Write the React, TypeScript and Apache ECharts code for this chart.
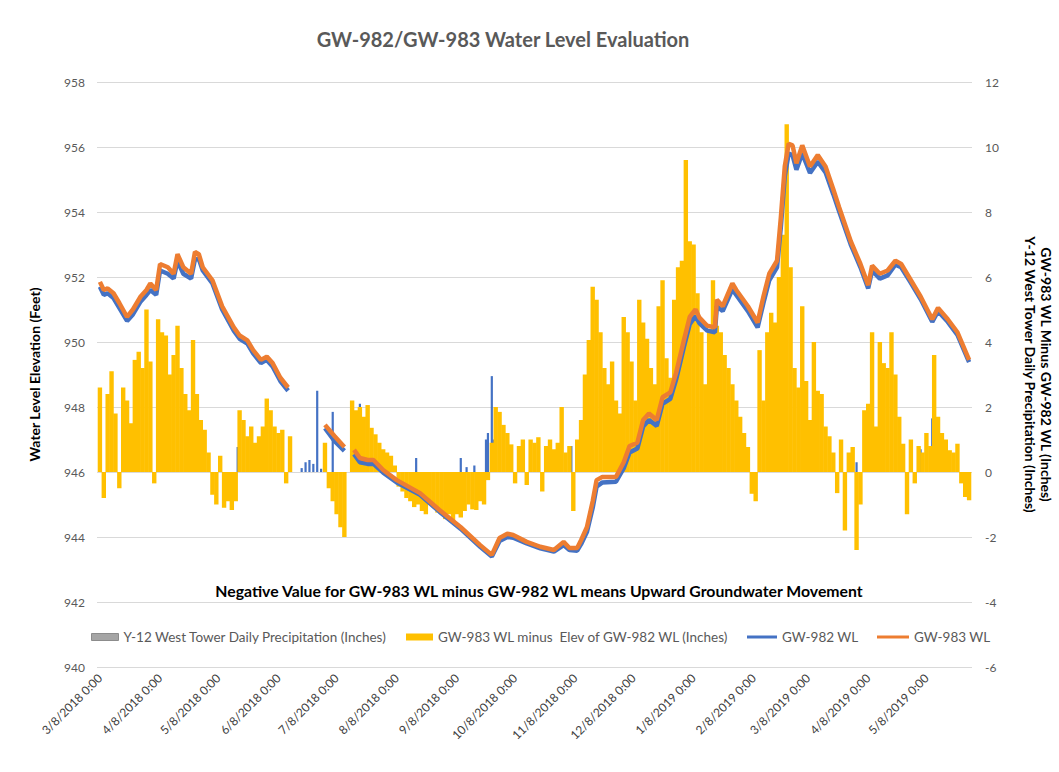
import React, { useEffect, useRef } from "react";
import * as echarts from "echarts";

const DAY_MS = 86400000;
const START = Date.UTC(2018, 2, 8); // day 0 = 3/8/2018

const tickLabels = [
  "3/8/2018 0:00", "4/8/2018 0:00", "5/8/2018 0:00", "6/8/2018 0:00", "7/8/2018 0:00",
  "8/8/2018 0:00", "9/8/2018 0:00", "10/8/2018 0:00", "11/8/2018 0:00", "12/8/2018 0:00",
  "1/8/2019 0:00", "2/8/2019 0:00", "3/8/2019 0:00", "4/8/2019 0:00", "5/8/2019 0:00",
];

// water level readings: days since 3/8/2018
const levelDays = [
  0, 2, 4, 7, 10, 14, 17, 21, 24, 26,
  29, 31, 35, 38, 40, 43, 47, 49, 51, 53,
  58, 63, 69, 72, 76, 79, 83, 86, 89, 93,
  97, 98, 116, 121, 126, 127, 131, 134, 138, 141,
  146, 153, 165, 175, 186, 196, 202, 206, 210, 213,
  220, 227, 234, 239, 242, 246, 248, 251, 254, 256,
  259, 266, 270, 273, 277, 280, 283, 287, 290, 294,
  297, 301, 304, 307, 309, 313, 317, 318, 321, 326,
  328, 334, 339, 342, 345, 349, 351, 353, 355, 357,
  359, 362, 366, 370, 374, 378, 381, 387, 392, 396,
  398, 402, 406, 410, 413, 418, 423, 429, 432, 437,
  442, 448,
];

const gw983 = [
  951.85, 951.6, 951.65, 951.5, 951.2, 950.77, 951.0, 951.4, 951.6, 951.8,
  951.6, 952.4, 952.3, 952.1, 952.7, 952.3, 952.1, 952.77, 952.7, 952.3,
  951.9, 951.1, 950.45, 950.2, 950.05, 949.75, 949.45, 949.55, 949.35, 948.9,
  948.6, null, 947.45, 947.1, 946.77, null, 946.68, 946.43, 946.37, 946.37,
  946.06, 945.75, 945.35, 944.83, 944.3, 943.75, 943.45, 943.97, 944.1, 944.06,
  943.85, 943.7, 943.6, 943.85, 943.66, 943.66, 943.9, 944.3, 945.1, 945.75,
  945.85, 945.85, 946.3, 946.8, 946.9, 947.6, 947.8, 947.6, 948.3, 948.45,
  949.05, 950.05, 950.77, 951.0, 950.75, 950.5, 950.45, 951.3, 951.1, 951.8,
  951.6, 951.1, 950.6, 951.4, 952.1, 952.5, 953.85, 955.4, 956.1, 956.05,
  955.5, 956.05, 955.4, 955.75, 955.4, 954.7, 954.15, 953.1, 952.4, 951.75,
  952.35, 952.1, 952.2, 952.5, 952.4, 951.9, 951.4, 950.7, 951.05, 950.7,
  950.3, 949.45,
];

const gw982 = [
  951.7, 951.45, 951.5, 951.35, 951.05, 950.65, 950.85, 951.25, 951.45, 951.6,
  951.45, 952.2, 952.1, 951.95, 952.5, 952.1, 951.95, 952.55, 952.55, 952.2,
  951.8, 951.0, 950.35, 950.1, 949.95, 949.65, 949.35, 949.45, 949.25, 948.8,
  948.5, null, 947.35, 946.95, 946.65, null, 946.55, 946.3, 946.25, 946.25,
  945.98, 945.68, 945.3, 944.78, 944.25, 943.7, 943.4, 943.88, 944.0, 943.98,
  943.8, 943.65, 943.55, 943.75, 943.6, 943.58, 943.78, 944.15, 944.9, 945.55,
  945.68, 945.7, 946.12, 946.6, 946.72, 947.4, 947.6, 947.42, 948.1, 948.25,
  948.85, 949.85, 950.55, 950.8, 950.58, 950.35, 950.3, 951.1, 950.95, 951.62,
  951.45, 950.95, 950.45, 951.2, 951.9, 952.3, 953.55, 955.1, 955.8, 955.75,
  955.3, 955.8, 955.2, 955.55, 955.22, 954.55, 954.02, 953.0, 952.3, 951.65,
  952.2, 951.95, 952.05, 952.38, 952.3, 951.82, 951.32, 950.62, 950.95, 950.62,
  950.22, 949.38,
];

// GW-983 WL minus GW-982 WL (inches), one value every 2 days from day 0
const diffStepDays = 2;
const diffValues = [
  2.6, -0.8, 2.4, 3.1, 1.8, -0.5, 2.6, 2.2, 1.5, 3.45,
  3.7, 3.2, 5.0, 3.4, -0.35, 4.7, 4.3, 4.2, 3.0, 3.6,
  4.5, 3.2, 2.4, 1.9, 4.06, 2.4, 1.6, 1.3, 0.6, -0.7,
  -1.0, 0.5, -1.1, -0.9, -1.17, -0.9, 1.9, 1.6, 1.1, 1.4,
  0.9, 1.1, 1.4, 2.26, 1.9, 1.4, 1.2, 1.3, -0.35, 1.1,
  null, null, null, null, null, null, null, null, 0.9, -0.5,
  -0.9, -1.3, -1.7, -2.0, null, 2.2, 1.9, 2.0, 1.7, 2.06,
  1.36, 1.16, 0.9, 0.7, 0.6, 0.5, 0.2, -0.45, -0.6, -0.8,
  -0.9, -1.08, -1.0, -1.2, -1.3, -1.0, -1.08, -1.25, -1.2, -1.45,
  -1.3, -1.5, -1.3, -1.4, -1.2, -1.0, -1.15, -1.17, -0.9, -1.0,
  -0.25, 0.9, 2.0, 1.85, 1.45, 1.2, 0.85, -0.35, 0.8, 1.0,
  -0.4, 1.0, 0.9, 1.07, -0.6, 0.8, 1.0, 0.7, 0.9, 2.0,
  0.6, 0.8, -1.2, 1.0, 1.6, 3.0, 4.06, 5.7, 5.3, 4.3,
  3.2, 2.7, 3.4, 2.2, 1.8, 4.77, 4.3, 3.4, 2.2, 5.3,
  4.6, 4.1, 3.2, 2.7, 5.1, 5.9, 3.5, 2.9, 5.3, 6.3,
  6.5, 9.6, 7.1, 7.0, 5.5, 4.3, 2.7, 4.3, 5.9, 4.5,
  4.3, 3.6, 3.2, 2.7, 2.2, 1.7, 1.2, 0.77, -0.67, -0.9,
  3.75, 2.2, 4.3, 4.9, 4.6, 6.0, 7.3, 10.7, 6.3, 3.2,
  2.6, 5.1, 2.8, 1.6, 4.0, 2.5, 2.4, 1.4, 1.1, 0.6,
  -0.65, 1.0, -1.8, 0.6, 0.77, -2.4, -1.0, 1.9, 2.1, 4.3,
  1.4, 4.0, 3.35, 3.2, 4.3, 3.0, 1.7, 0.87, -1.3, 1.0,
  -0.35, 0.8, 0.6, 1.2, 0.8, 3.6, 1.7, 1.2, 1.0, 0.67,
  0.6, 0.87, -0.35, -0.77, -0.87,
];

// Y-12 West Tower daily precipitation (inches)
const precipDays = [71, 104, 106, 108, 110, 112, 114, 120, 134, 163, 186, 189, 193, 199, 200, 202, 203, 243, 390, 423, 429];
const precipValues = [0.77, 0.12, 0.3, 0.37, 0.25, 2.5, 0.1, 1.85, 2.1, 0.43, 0.43, 0.15, 0.2, 1.0, 1.2, 2.95, 1.0, 0.8, 0.3, 0.7, 1.65];

const SERIES_PRECIP = "Y-12 West Tower Daily Precipitation (Inches)";
const SERIES_DIFF = "GW-983 WL minus  Elev of GW-982 WL (Inches)";
const SERIES_982 = "GW-982 WL";
const SERIES_983 = "GW-983 WL";

const FONT = "Lato, 'Open Sans', sans-serif";

const X_MIN = -1.5;
const X_MAX = 449.5;

const labelToDay = (s: string) => {
  const [m, d, rest] = s.split("/");
  const t = Date.UTC(parseInt(rest, 10), parseInt(m, 10) - 1, parseInt(d, 10));
  return Math.round((t - START) / DAY_MS);
};

export default function App() {
  const ref = useRef<HTMLDivElement>(null);

  useEffect(() => {
    document.body.style.margin = "0";
    if (!ref.current) return;
    const chart = echarts.init(ref.current, null, { renderer: "svg" });

    const tickDays = tickLabels.map(labelToDay);
    const labelMap = new Map<number, string>();
    tickLabels.forEach((l, i) => labelMap.set(tickDays[i], l));

    const lineData = (vals: (number | null)[]) =>
      levelDays.map((d, i) => [d, vals[i] === null ? "-" : vals[i]]);

    const diffData: any[] = [];
    diffValues.forEach((v, i) => {
      if (v !== null) diffData.push([i * diffStepDays, v]);
    });
    const precipData = precipDays.map((d, i) => [d, precipValues[i]]);

    const legendBase = {
      top: 630,
      padding: 0,
      selectedMode: false,
      textStyle: { color: "#595959", fontSize: 13.5, fontFamily: FONT },
    };

    chart.setOption({
      animation: false,
      backgroundColor: "#ffffff",
      textStyle: { fontFamily: FONT },
      title: [
        {
          text: "GW-982/GW-983 Water Level Evaluation",
          left: 503,
          textAlign: "center",
          top: 29,
          padding: 0,
          textStyle: { color: "#595959", fontSize: 20, fontWeight: "bold", fontFamily: FONT },
        },
        {
          text: "Negative Value for GW-983 WL minus GW-982 WL means Upward Groundwater Movement",
          left: 539,
          textAlign: "center",
          top: 582,
          padding: 0,
          textStyle: { color: "#000000", fontSize: 15.8, fontWeight: "bold", fontFamily: FONT },
        },
      ],
      legend: [
        {
          ...legendBase,
          left: 91,
          itemWidth: 27,
          itemHeight: 7,
          data: [{ name: SERIES_PRECIP, icon: "rect", itemStyle: { color: "#A5A5A5", borderColor: "#8C8C8C", borderWidth: 1 } }],
        },
        {
          ...legendBase,
          left: 406,
          itemWidth: 27,
          itemHeight: 7,
          data: [{ name: SERIES_DIFF, icon: "rect" }],
        },
        {
          ...legendBase,
          left: 747,
          itemWidth: 30,
          itemHeight: 3,
          data: [{ name: SERIES_982, icon: "rect" }],
        },
        {
          ...legendBase,
          left: 877,
          itemWidth: 32,
          itemHeight: 3,
          data: [{ name: SERIES_983, icon: "rect" }],
        },
      ],
      grid: { left: 97, right: 87, top: 82, bottom: 105, outerBoundsMode: "none" },
      xAxis: [
        {
          type: "value",
          min: X_MIN,
          max: X_MAX,
          axisLine: { show: false },
          axisTick: { show: false },
          splitLine: { show: false },
          axisLabel: {
            customValues: tickDays,
            formatter: (v: number) => labelMap.get(Math.round(v)) ?? "",
            rotate: 45,
            margin: 9,
            color: "#404040",
            fontSize: 12,
            fontFamily: FONT,
            hideOverlap: false,
          },
        },
        {
          type: "value",
          min: X_MIN,
          max: X_MAX,
          show: false,
        },
      ],
      yAxis: [
        {
          type: "value",
          position: "left",
          min: 940,
          max: 958,
          interval: 2,
          axisLine: { show: false },
          axisTick: { show: false },
          splitLine: { lineStyle: { color: "#D9D9D9", width: 1 } },
          axisLabel: { color: "#595959", fontSize: 12, margin: 12, fontFamily: FONT },
          name: "Water Level Elevation (Feet)",
          nameLocation: "middle",
          nameGap: 56,
          nameTextStyle: { color: "#000000", fontWeight: "bold", fontSize: 14, fontFamily: FONT },
        },
        {
          type: "value",
          position: "right",
          min: -6,
          max: 12,
          interval: 2,
          axisLine: { show: false },
          axisTick: { show: false },
          splitLine: { show: false },
          axisLabel: { color: "#595959", fontSize: 12, margin: 13, fontFamily: FONT },
          name: "GW-983 WL Minus GW-982 WL (Inches)\nY-12 West Tower Daily Precipitation (Inches)",
          nameLocation: "middle",
          nameRotate: -90,
          nameGap: 50,
          nameTextStyle: { color: "#000000", fontWeight: "bold", fontSize: 14, lineHeight: 16, fontFamily: FONT },
        },
      ],
      series: [
        {
          name: SERIES_PRECIP,
          type: "bar",
          xAxisIndex: 0,
          yAxisIndex: 1,
          data: precipData,
          barWidth: 2.2,
          barMinWidth: 2.2,
          itemStyle: { color: "#4472C4" },
        },
        {
          name: SERIES_DIFF,
          type: "bar",
          xAxisIndex: 1,
          yAxisIndex: 1,
          data: diffData,
          barWidth: 4.4,
          barMinWidth: 4.4,
          itemStyle: { color: "#FFC000" },
        },
        {
          name: SERIES_982,
          type: "line",
          xAxisIndex: 0,
          yAxisIndex: 0,
          data: lineData(gw982),
          symbol: "none",
          connectNulls: false,
          lineStyle: { color: "#4472C4", width: 4.5 },
          itemStyle: { color: "#4472C4" },
        },
        {
          name: SERIES_983,
          type: "line",
          xAxisIndex: 0,
          yAxisIndex: 0,
          data: lineData(gw983),
          symbol: "none",
          connectNulls: false,
          lineStyle: { color: "#ED7D31", width: 4.5 },
          itemStyle: { color: "#ED7D31" },
        },
      ],
    });

    return () => chart.dispose();
  }, []);

  return <div ref={ref} style={{ width: 1059, height: 772 }} />;
}
